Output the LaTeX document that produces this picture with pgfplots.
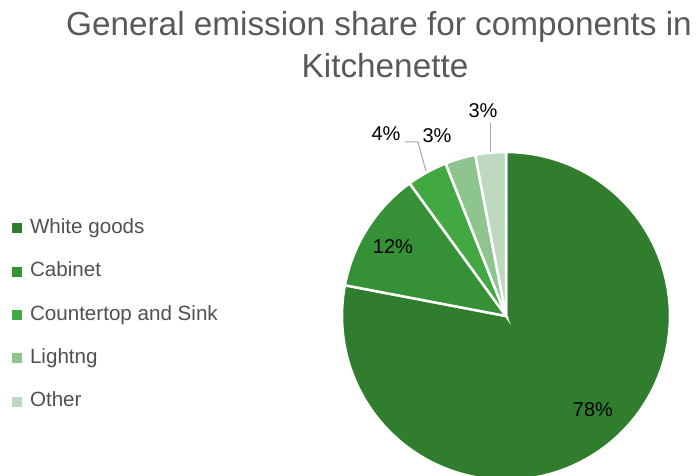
\documentclass[border=0pt]{standalone}
\usepackage{pgfplots}
\usepackage{pgfplotstable}
\pgfplotsset{compat=1.18}
\usepackage{fontspec}
\setmainfont{Liberation Sans}
\definecolor{cA}{RGB}{47,125,45}
\definecolor{cB}{RGB}{54,145,54}
\definecolor{cC}{RGB}{66,168,66}
\definecolor{cD}{RGB}{142,196,142}
\definecolor{cE}{RGB}{190,218,190}
\definecolor{titlegray}{RGB}{89,89,89}
\definecolor{leggray}{RGB}{80,80,80}
\definecolor{leadergray}{RGB}{166,166,166}
\pgfplotstableread{
label value
WhiteGoods 78
Cabinet 12
Countertop 4
Lighting 3
Other 3
}\piedata
\begin{document}
\begin{tikzpicture}[x=1pt,y=1pt]
\useasboundingbox (0,0) rectangle (698,476);
\pgfplotstablegetelem{0}{value}\of\piedata \pgfmathsetmacro\vA{\pgfplotsretval}
\pgfplotstablegetelem{1}{value}\of\piedata \pgfmathsetmacro\vB{\pgfplotsretval}
\pgfplotstablegetelem{2}{value}\of\piedata \pgfmathsetmacro\vC{\pgfplotsretval}
\pgfplotstablegetelem{3}{value}\of\piedata \pgfmathsetmacro\vD{\pgfplotsretval}
\pgfplotstablegetelem{4}{value}\of\piedata \pgfmathsetmacro\vE{\pgfplotsretval}
\pgfmathsetmacro\aA{0}
\pgfmathsetmacro\aB{\aA+3.6*\vA}
\pgfmathsetmacro\aC{\aB+3.6*\vB}
\pgfmathsetmacro\aD{\aC+3.6*\vC}
\pgfmathsetmacro\aE{\aD+3.6*\vD}
\pgfmathsetmacro\aF{\aE+3.6*\vE}
\node[anchor=base, text=titlegray, font=\fontsize{33.3}{38}\selectfont] at (379,440) {General emission share for components in};
\node[anchor=base, text=titlegray, font=\fontsize{33.3}{38}\selectfont] at (385,398) {Kitchenette};
\begin{axis}[
  at={(506pt,160pt)}, anchor=center,
  width=328pt, height=328pt, scale only axis,
  xmin=-1, xmax=1, ymin=-1, ymax=1,
  hide axis, clip=false,
  legend style={draw=none, fill=none, at={(-1.017,0.504)}, anchor=west,
    font=\fontsize{20.6}{24}\selectfont, text=leggray,
    row sep=24.3pt,
    nodes={inner sep=0pt, text height=15pt, text depth=4pt},
    cells={anchor=west},
    /tikz/every odd column/.style={column sep=9pt}},
]
\addplot[fill=cA, draw=white, line width=2.5pt, domain=\aA:\aB, samples=150, variable=\t, forget plot] ({sin(t)},{cos(t)}) -- (axis cs:0,0) -- cycle;
\addplot[fill=cB, draw=white, line width=2.5pt, domain=\aB:\aC, samples=40, variable=\t, forget plot] ({sin(t)},{cos(t)}) -- (axis cs:0,0) -- cycle;
\addplot[fill=cC, draw=white, line width=2.5pt, domain=\aC:\aD, samples=20, variable=\t, forget plot] ({sin(t)},{cos(t)}) -- (axis cs:0,0) -- cycle;
\addplot[fill=cD, draw=white, line width=2.5pt, domain=\aD:\aE, samples=20, variable=\t, forget plot] ({sin(t)},{cos(t)}) -- (axis cs:0,0) -- cycle;
\addplot[fill=cE, draw=white, line width=2.5pt, domain=\aE:\aF, samples=20, variable=\t, forget plot] ({sin(t)},{cos(t)}) -- (axis cs:0,0) -- cycle;
\addplot[leadergray, line width=1pt, forget plot] coordinates {(-0.616,1.061) (-0.537,1.061) (-0.488,0.884)};
\addplot[leadergray, line width=1pt, forget plot] coordinates {(-0.0915,1.177) (-0.0915,1.0)};
\addlegendimage{legend image code/.code={\fill[cA] (0pt,-4.5pt) rectangle (9pt,4.5pt);}}
\addlegendentry{White goods}
\addlegendimage{legend image code/.code={\fill[cB] (0pt,-4.5pt) rectangle (9pt,4.5pt);}}
\addlegendentry{Cabinet}
\addlegendimage{legend image code/.code={\fill[cC] (0pt,-4.5pt) rectangle (9pt,4.5pt);}}
\addlegendentry{Countertop and Sink}
\addlegendimage{legend image code/.code={\fill[cD] (0pt,-4.5pt) rectangle (9pt,4.5pt);}}
\addlegendentry{Lightng}
\addlegendimage{legend image code/.code={\fill[cE] (0pt,-4.5pt) rectangle (9pt,4.5pt);}}
\addlegendentry{Other}
\node[font=\fontsize{20}{24}\selectfont] at (axis cs:0.530,-0.573) {78\%};
\node[font=\fontsize{20}{24}\selectfont] at (axis cs:-0.689,0.421) {12\%};
\node[font=\fontsize{20}{24}\selectfont] at (axis cs:-0.732,1.110) {4\%};
\node[font=\fontsize{20}{24}\selectfont] at (axis cs:-0.421,1.098) {3\%};
\node[font=\fontsize{20}{24}\selectfont] at (axis cs:-0.140,1.250) {3\%};
\end{axis}
\end{tikzpicture}
\end{document}
